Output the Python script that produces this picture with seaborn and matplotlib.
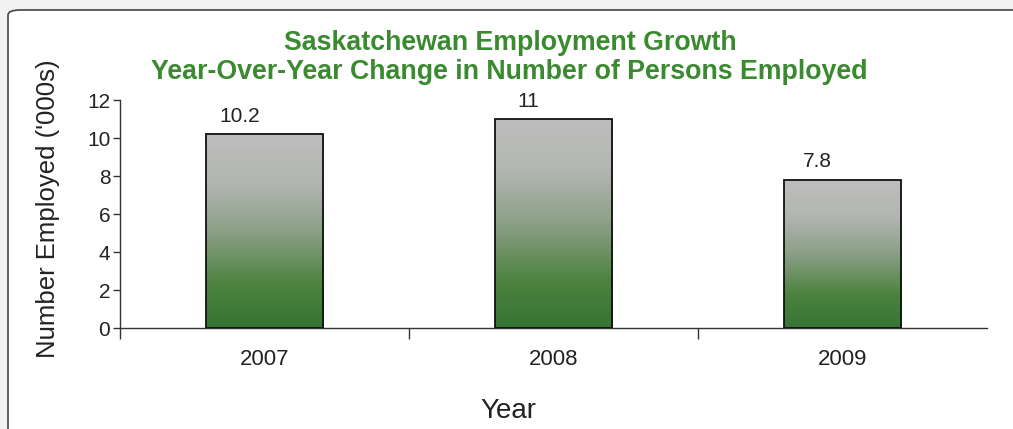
import numpy as np
import pandas as pd
import matplotlib
matplotlib.use("Agg")
import matplotlib.pyplot as plt
from matplotlib.colors import LinearSegmentedColormap
from matplotlib.patches import FancyBboxPatch
import seaborn as sns

# chart data
years = ["2007", "2008", "2009"]
employed = [10.2, 11, 7.8]
value_labels = ["10.2", "11", "7.8"]
y_ticks = [0, 2, 4, 6, 8, 10, 12]

df = pd.DataFrame({"Year": years, "Employed": employed})

sns.set_style("white")
plt.rcParams["font.family"] = ["Liberation Sans", "DejaVu Sans"]

fig = plt.figure(figsize=(10.13, 4.29), dpi=100)
fig.patch.set_facecolor("#f2f2f2")

# rounded white panel behind the chart
frame = FancyBboxPatch((8 / 1013, -0.2), 1.2, 1 - 10 / 429 + 0.2,
                       boxstyle="round,pad=0,rounding_size=0.012",
                       transform=fig.transFigure, facecolor="white",
                       edgecolor="#444444", linewidth=1.2, zorder=-5)
fig.patches.append(frame)

ax = fig.add_axes([120 / 1013, 1 - 328 / 429, (987 - 120) / 1013, (328 - 100) / 429])
ax.set_facecolor("none")
ax.set_zorder(2)

sns.barplot(data=df, x="Year", y="Employed", width=0.405, ax=ax,
            facecolor="none", edgecolor="#111111", linewidth=1.3, zorder=3)

# gradient fill, grey at the top to green at the bottom, for each bar
cmap = LinearSegmentedColormap.from_list(
    "gg", [(0, "#367535"), (0.22, "#4c823e"), (0.5, "#8b9f87"),
           (0.75, "#b2b6b1"), (1, "#bebebe")])
grad = np.linspace(0, 1, 256).reshape(-1, 1)
for p in list(ax.patches):
    x0, y0 = p.get_x(), p.get_y()
    w, h = p.get_width(), p.get_height()
    im = ax.imshow(grad, cmap=cmap, origin="lower", aspect="auto",
                   extent=(x0, x0 + w, y0, y0 + h), zorder=2)
    im.set_clip_path(p)

ax.set_xlim(-0.5, 2.5)
ax.set_ylim(0, 12)

for i, lab in enumerate(value_labels):
    ax.annotate(lab, (i, employed[i]), xytext=(-18, 6), textcoords="offset points",
                ha="center", va="bottom", fontsize=15, color="#222222")

ax.set_yticks(y_ticks)
ax.tick_params(axis="y", direction="out", length=5, width=1, color="#333333",
               labelsize=15, labelcolor="#222222", pad=2, left=True)
ax.set_xticks([0, 1, 2])
ax.set_xticks([-0.5, 0.5, 1.5], minor=True)
ax.tick_params(axis="x", which="major", length=0, pad=15, labelsize=16,
               labelcolor="#222222")
ax.tick_params(axis="x", which="minor", direction="out", length=8, width=1,
               color="#333333", bottom=True)

ax.set_xlabel("")
ax.set_ylabel("")
sns.despine(ax=ax)
for s in ["left", "bottom"]:
    ax.spines[s].set_color("#333333")
    ax.spines[s].set_linewidth(1.0)

fig.text(510 / 1013, 1 - 43 / 429, "Saskatchewan Employment Growth",
         ha="center", va="center", fontsize=19.3, fontweight="bold", color="#3a8a30")
fig.text(509 / 1013, 1 - 72 / 429, "Year-Over-Year Change in Number of Persons Employed",
         ha="center", va="center", fontsize=19.3, fontweight="bold", color="#3a8a30")
fig.text(508 / 1013, 1 - 411 / 429, "Year", ha="center", va="center",
         fontsize=20, color="#222222")
fig.text(48 / 1013, 1 - 209 / 429, "Number Employed ('000s)", ha="center",
         va="center", rotation=90, fontsize=18.5, color="#222222")

fig.savefig("out.png", dpi=100, facecolor=fig.get_facecolor())
